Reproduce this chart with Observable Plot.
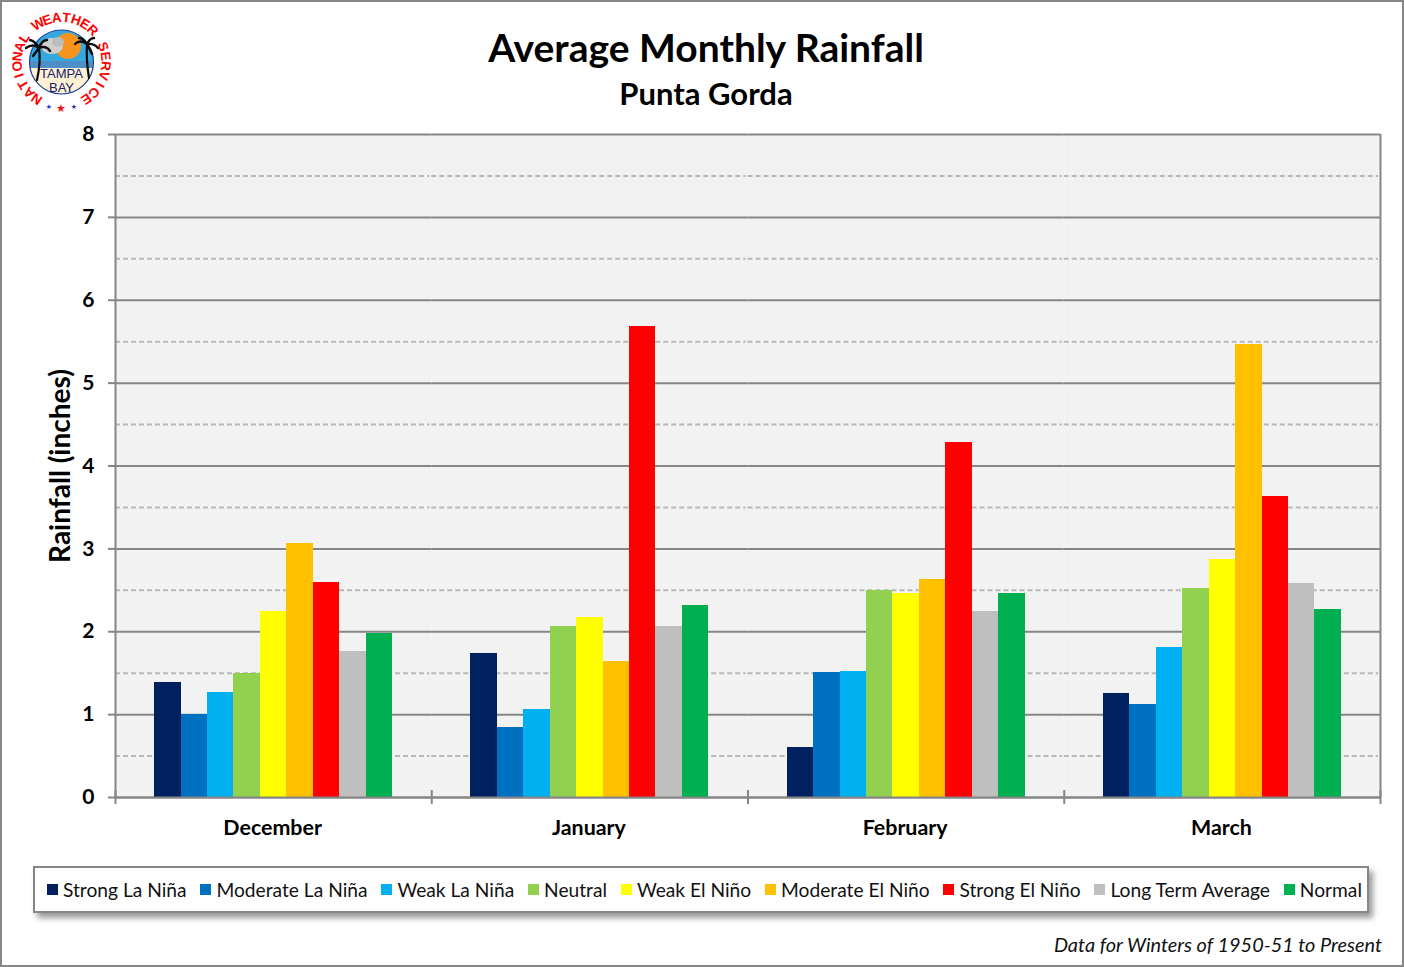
<!DOCTYPE html>
<html><head><meta charset="utf-8">
<script src="https://cdn.jsdelivr.net/npm/d3@7"></script>
<script src="https://cdn.jsdelivr.net/npm/@observablehq/plot@0.6"></script>
<style>
html,body{margin:0;padding:0;background:#fff;}
#page{position:relative;width:1404px;height:967px;overflow:hidden;box-shadow:inset 0 0 0 2px #868686;font-family:Lato,sans-serif;color:#000;}
#logo{position:absolute;left:0;top:0;}
#head{height:115px;text-align:center;position:relative;}
#head .t{position:absolute;left:8px;right:0;top:24px;font-size:39px;font-weight:700;line-height:46px;}
#head .s{position:absolute;left:8px;right:0;top:75px;font-size:31px;font-weight:700;line-height:36px;}
#chart svg{display:block;}
#legend{position:absolute;left:33px;top:866px;width:1336px;height:47px;box-sizing:border-box;border:2px solid #868686;background:#fff;box-shadow:4px 5px 6px rgba(0,0,0,.4);display:flex;align-items:center;justify-content:space-between;padding:0 5px 0 12px;font-size:19.2px;color:#111;white-space:nowrap;}
#legend span.i{display:flex;align-items:center;}
#legend b{display:inline-block;width:11px;height:11px;margin-right:5px;}
#note{position:absolute;right:22px;top:932px;font-size:19.9px;font-style:italic;color:#111;line-height:24px;}
</style></head><body>
<div id="page">
  <div id="head"><div class="t"></div><div class="s"></div></div>
  <div id="chart"></div>
  <div id="legend"></div>
  <div id="note"></div>
  <svg id="logo" width="125" height="120" viewBox="0 0 125 120" xmlns="http://www.w3.org/2000/svg">
    <defs>
      <clipPath id="disc"><circle cx="61.5" cy="62" r="32"/></clipPath>
    </defs>
    <g clip-path="url(#disc)">
      <rect x="28" y="28" width="68" height="35" fill="#35a8e0"/>
      <rect x="28" y="61" width="68" height="7" fill="#4f8fc9"/>
      <rect x="28" y="68" width="68" height="28" fill="#fdf1d3"/>
      <circle cx="68" cy="46" r="13" fill="#f7941d"/>
      <ellipse cx="52" cy="46" rx="11" ry="8" fill="#cfcfcf"/>
      <ellipse cx="58" cy="42" rx="6" ry="5" fill="#bdbdbd"/>
    </g>
    <circle cx="61.5" cy="62" r="32" fill="none" stroke="#1f3f9a" stroke-width="1.2"/>
    <g fill="none" stroke="#0b0b0b" stroke-linecap="round">
      <path d="M39 48 Q41 62 37 80" stroke-width="2.2"/>
      <path d="M87 44 Q86 60 89 78" stroke-width="2.2"/>
      <path d="M39 48 Q33 43 26 48 M39 48 Q35 41 30 40 M39 48 Q42 40 47 40 M39 48 Q46 45 50 51 M39 48 Q36 52 33 56" stroke-width="2.4"/>
      <path d="M87 44 Q80 39 75 44 M87 44 Q83 38 79 38 M87 44 Q90 38 94 38 M87 44 Q94 43 98 48 M87 44 Q90 50 92 54" stroke-width="2.4"/>
    </g>
    <text x="61.5" y="78" text-anchor="middle" font-family="Liberation Sans" font-size="13" fill="#14206b">TAMPA</text>
    <text x="61.5" y="92" text-anchor="middle" font-family="Liberation Sans" font-size="13" fill="#14206b">BAY</text>
    <g id="ring"></g>
    <text x="61" y="112" text-anchor="middle" font-family="DejaVu Sans" font-size="11" fill="#e8141c">★</text>
    <text x="49" y="109" text-anchor="middle" font-family="DejaVu Sans" font-size="7" fill="#1f2fb5">★</text>
    <text x="74" y="109" text-anchor="middle" font-family="DejaVu Sans" font-size="7" fill="#1f2fb5">★</text>
  </svg>
</div>
<script>
const titleText = "Average Monthly Rainfall";
const subtitleText = "Punta Gorda";
const yLabel = "Rainfall (inches)";
const noteText = "Data for Winters of 1950-51 to Present";
const logoRing = "NATIONAL WEATHER SERVICE";
const months = ["December", "January", "February", "March"];
const seriesNames = ["Strong La Niña", "Moderate La Niña", "Weak La Niña", "Neutral", "Weak El Niño", "Moderate El Niño", "Strong El Niño", "Long Term Average", "Normal"];
const seriesColors = ["#002060", "#0070c0", "#00b0f0", "#92d050", "#ffff00", "#ffc000", "#ff0000", "#bfbfbf", "#00b050"];
const december = [1.39, 1.00, 1.27, 1.50, 2.25, 3.07, 2.60, 1.76, 1.98];
const january = [1.74, 0.84, 1.06, 2.06, 2.17, 1.64, 5.68, 2.06, 2.32];
const february = [0.60, 1.51, 1.52, 2.50, 2.46, 2.63, 4.28, 2.24, 2.46];
const march = [1.26, 1.12, 1.81, 2.52, 2.87, 5.47, 3.63, 2.58, 2.27];
const majorTicks = [0, 1, 2, 3, 4, 5, 6, 7, 8];
const minorTicks = [0.5, 1.5, 2.5, 3.5, 4.5, 5.5, 6.5, 7.5];

const monthValues = [december, january, february, march];
const rows = months.flatMap((m, i) => seriesNames.map((s, j) => ({month: m, series: s, value: monthValues[i][j]})));

document.querySelector("#head .t").textContent = titleText;
document.querySelector("#head .s").textContent = subtitleText;
document.getElementById("note").textContent = noteText;
const legend = document.getElementById("legend");
seriesNames.forEach((s, i) => {
  const it = document.createElement("span"); it.className = "i";
  const b = document.createElement("b"); b.style.background = seriesColors[i];
  it.append(b, document.createTextNode(s));
  legend.append(it);
});

// logo ring: one text per letter around the badge
const ring = document.getElementById("ring");
[...logoRing].forEach((ch, i, all) => {
  if (ch === " ") return;
  const a = -146 + 292 * i / (all.length - 1);
  const t = document.createElementNS("http://www.w3.org/2000/svg", "text");
  t.textContent = ch;
  t.setAttribute("x", 61.5); t.setAttribute("y", 62 - 40);
  t.setAttribute("text-anchor", "middle");
  t.setAttribute("font-family", "Liberation Sans");
  t.setAttribute("font-weight", "700");
  t.setAttribute("font-size", "13.5");
  t.setAttribute("fill", "#ff0000");
  t.setAttribute("transform", `rotate(${a} 61.5 62)`);
  ring.append(t);
});

const gray = "#868686";
const paddingOuter = 1.48;
const chartW = 1404, ml = 115, mr = 24;
const step = (chartW - ml - mr) / months.length / (seriesNames.length + 2 * paddingOuter);
const edge = step * (paddingOuter + 0.5);
const first = seriesNames[0], last = seriesNames[seriesNames.length - 1];
const tickLow = -0.085, tickHigh = 0.085;

const plot = Plot.plot({
  width: chartW, height: 740,
  marginLeft: ml, marginRight: mr, marginTop: 19, marginBottom: 58,
  style: {fontFamily: "Lato, sans-serif", background: "transparent", color: "#000"},
  fx: {domain: months, padding: 0, round: false, label: null},
  x: {domain: seriesNames, padding: 0, paddingOuter, round: false, axis: null},
  y: {domain: [0, 8], label: null},
  color: {domain: seriesNames, range: seriesColors},
  marks: [
    Plot.frame({fill: "#f2f2f2", stroke: "none"}),
    Plot.ruleY(minorTicks, {stroke: "#b8b8b8", strokeWidth: 2, strokeDasharray: "5,3", insetRight: 2}),
    Plot.ruleY(majorTicks, {stroke: gray, strokeWidth: 2}),
    Plot.barY(rows, {fx: "month", x: "series", y: "value", fill: "series", shapeRendering: "crispEdges"}),
    Plot.ruleY([0], {stroke: gray, strokeWidth: 2}),
    Plot.ruleX(months, {fx: d => d, x: () => first, y1: tickLow, y2: tickHigh, dx: -edge, stroke: gray, strokeWidth: 2}),
    Plot.ruleX([months[3]], {fx: d => d, x: () => last, y1: tickLow, y2: tickHigh, dx: edge, stroke: gray, strokeWidth: 2}),
    Plot.ruleX([months[0]], {fx: d => d, x: () => first, y1: 0, y2: 8, dx: -edge, stroke: gray, strokeWidth: 2}),
    Plot.ruleX([months[3]], {fx: d => d, x: () => last, y1: 0, y2: 8, dx: edge, stroke: gray, strokeWidth: 2}),
    Plot.axisY(majorTicks, {anchor: "left", tickSize: 7, tickPadding: 14, tickFormat: "d", stroke: gray, fill: "#000", strokeWidth: 2, fontSize: 21, fontWeight: 700, label: null}),
    Plot.axisY({anchor: "left", ticks: [], tickSize: 0, label: yLabel, labelAnchor: "center", labelArrow: "none", labelOffset: 65, fontSize: 28, fontWeight: 700, fill: "#000", dy: 1}),
    Plot.axisFx({anchor: "bottom", tickSize: 0, tickPadding: 22, fontSize: 21.4, fontWeight: 700, fill: "#000", label: null, dx: -1})
  ]
});
document.getElementById("chart").append(plot);
</script>
</body></html>
